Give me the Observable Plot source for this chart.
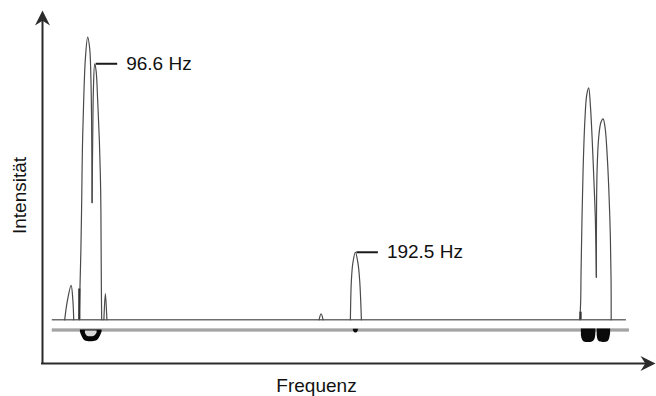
<!DOCTYPE html>
<html><head><meta charset="utf-8">
<script src="https://cdn.jsdelivr.net/npm/d3@7"></script>
<script src="https://cdn.jsdelivr.net/npm/@observablehq/plot@0.6"></script>
<style>html,body{margin:0;padding:0;background:#fff}svg{display:block}</style>
</head><body><div id="chart"></div>
<script>
// axis extents (frequency in Hz, intensity in arbitrary units)
const freqDomain = [77.4, 302.9];
const intensityDomain = [-15.46, 109.45];

// spectrum trace, as segments
const traceSegment = [
  "s1","s1","s1","s1","s1",
  "d1a","d1a","d1a","d1a","d1a","d1a","d1a","d1a","d1a","d1a","d1a","d1a",
  "d1b","d1b","d1b","d1b","d1b","d1b","d1b","d1b","d1b","d1b","d1b",
  "s2","s2","s2",
  "s3","s3","s3",
  "p2","p2","p2","p2","p2","p2","p2",
  "d3a","d3a","d3a","d3a","d3a","d3a","d3a","d3a","d3a","d3a","d3a","d3a",
  "d3b","d3b","d3b","d3b","d3b","d3b","d3b","d3b","d3b","d3b","d3b"
];
const traceHz = [
  85.56, 86.56, 87.92, 88.58, 88.88,
  90.90, 91.16, 91.52, 91.82, 92.07, 92.55, 93.18, 94.02, 94.76, 95.20, 95.46, 95.64,
  95.64, 95.86, 96.12, 96.60, 97.11, 97.70, 98.32, 98.80, 98.95, 99.06, 99.17,
  99.98, 100.53, 101.09,
  179.15, 179.88, 180.62,
  190.66, 191.03, 191.58, 192.50, 193.42, 194.08, 194.71,
  275.08, 275.38, 275.52, 276.26, 276.92, 277.58, 278.32, 278.95, 279.57, 280.23, 280.78, 281.15,
  281.15, 281.41, 282.07, 282.81, 283.62, 284.39, 285.09, 285.75, 286.30, 286.56, 286.60
];
const traceIntensity = [
  0, 6.8, 12.2, 6.8, 0,
  0, 10.4, 24.5, 42.2, 59.9, 77.6, 92.5, 100, 96.0, 85.6, 70.5, 41.5,
  41.5, 63.4, 81.1, 90.6, 88.2, 77.6, 63.4, 45.7, 28.1, 10.4, 0,
  0, 9.3, 0,
  0, 2.1, 0,
  0, 13.9, 20.2, 23.9, 20.2, 13.9, 0,
  0, 6.8, 17.4, 52.8, 70.5, 79.4, 82.1, 75.8, 64.6, 49.6, 35.5, 15.1,
  15.1, 52.8, 65.2, 69.8, 71.1, 67.7, 58.8, 45.6, 29.2, 13.9, 0
];

// short thick strokes at peak feet
const footHz = [90.94, 275.33];
const footTop = [10.9, 2.7];

// baseline lines
const baselineHz = [81.0, 292.2];
const baseline2Hz = [81.0, 293.3];
const baseline2Level = -3.61;

// dark residue under the lower baseline
const bowlHz = [91.34, 92.07, 93.18, 97.22, 98.33, 99.32];
const bowlBottom = [-4.32, -6.09, -7.5, -7.5, -6.44, -4.32];
const bowlInnerHz = [93.18, 93.91, 96.49, 97.48];
const bowlInnerBottom = [-4.8, -5.8, -5.8, -4.8];

const blobId = ["a","a","a","a","a","a","b","b","b","b","b","b","c","c","c","c"];
const blobHz = [275.63, 276.00, 276.74, 279.68, 280.60, 280.97,
                281.45, 281.89, 282.63, 285.20, 285.94, 286.38,
                191.76, 192.30, 193.10, 193.60];
const blobTop = [-3.26,-3.26,-3.26,-3.26,-3.26,-3.26,-3.26,-3.26,-3.26,-3.26,-3.26,-3.26,-3.3,-3.3,-3.3,-3.3];
const blobBottom = [-5.55, -6.97, -7.86, -7.86, -6.97, -4.84,
                    -5.55, -7.32, -7.86, -7.86, -6.97, -4.84,
                    -3.9, -4.6, -4.6, -3.9];

// peak labels
const labelHz = [96.6, 192.5];
const labelIntensity = [90.6, 23.9];
const labelText = ["96.6 Hz", "192.5 Hz"];

const xTitle = "Frequenz";
const yTitle = "Intensität";

// ---- build tables ----
const trace = traceHz.map((x, i) => ({x, y: traceIntensity[i], z: traceSegment[i]}));
const feet = footHz.map((x, i) => ({x, y1: 0, y2: footTop[i]}));
const bowl = bowlHz.map((x, i) => ({x, y1: baseline2Level, y2: bowlBottom[i]}));
const bowlInner = bowlInnerHz.map((x, i) => ({x, y1: -4.0, y2: bowlInnerBottom[i]}));
const blobs = blobHz.map((x, i) => ({x, y1: blobTop[i], y2: blobBottom[i], z: blobId[i]}));
const labels = labelHz.map((x, i) => ({x, y: labelIntensity[i], text: labelText[i]}));
const tips = [
  {x: freqDomain[0], y: intensityDomain[1], r: 0},
  {x: freqDomain[1], y: intensityDomain[0], r: 90}
];

const stealth = {
  draw(ctx, size) {
    const r = Math.sqrt(size / Math.PI);
    const L = 2 * r, W = 2 * r;
    ctx.moveTo(0, 0);
    ctx.lineTo(W / 2, L);
    ctx.lineTo(0, L * 0.68);
    ctx.lineTo(-W / 2, L);
    ctx.closePath();
  }
};

const ink = "#2b2b2b";

const chart = Plot.plot({
  width: 656,
  height: 396,
  marginLeft: 42,
  marginRight: 1,
  marginTop: 10,
  marginBottom: 33,
  x: {domain: freqDomain, axis: null},
  y: {domain: intensityDomain, axis: null},
  style: {fontFamily: "'Liberation Sans', Arial, sans-serif", background: "white", overflow: "visible"},
  marks: [
    // baselines
    Plot.ruleY([baseline2Level], {x1: baseline2Hz[0], x2: baseline2Hz[1], stroke: "#8a8a8a", strokeWidth: 3}),
    Plot.ruleY([baseline2Level], {x1: baseline2Hz[0], x2: baseline2Hz[1], stroke: "#bdbdbd", strokeWidth: 1}),
    Plot.ruleY([0], {x1: baselineHz[0], x2: baselineHz[1], stroke: "#6e6e6e", strokeWidth: 1.4}),
    // residue
    Plot.areaY(bowl, {x: "x", y1: "y1", y2: "y2", fill: "#050505", curve: "catmull-rom"}),
    Plot.areaY(bowlInner, {x: "x", y1: "y1", y2: "y2", fill: "#d8d8d8", curve: "catmull-rom"}),
    Plot.areaY(blobs, {x: "x", y1: "y1", y2: "y2", z: "z", fill: "#0a0a0a", curve: "catmull-rom"}),
    // spectrum
    Plot.line(trace, {x: "x", y: "y", z: "z", stroke: "#4a4a4a", strokeWidth: 1.2, curve: "catmull-rom"}),
    Plot.ruleX(feet, {x: "x", y1: "y1", y2: "y2", stroke: "#333", strokeWidth: 2.2}),
    // labels
    Plot.ruleY(labels, {y: "y", x1: d => d.x + 0.55, x2: d => d.x + 8.46, stroke: "#1a1a1a", strokeWidth: 2}),
    Plot.text(labels, {x: "x", y: "y", text: "text", dx: 31.5, textAnchor: "start", fontSize: 19, fill: "#111"}),
    // axes
    Plot.ruleX([freqDomain[0]], {y1: intensityDomain[0], y2: intensityDomain[1] - 3, stroke: ink, strokeWidth: 2, strokeLinecap: "square"}),
    Plot.ruleY([intensityDomain[0]], {x1: freqDomain[0], x2: freqDomain[1] - 2.5, stroke: ink, strokeWidth: 2, strokeLinecap: "square"}),
    Plot.dot(tips, {x: "x", y: "y", rotate: "r", symbol: stealth, r: 7.5, fill: ink, stroke: "none"}),
    // titles
    Plot.text([xTitle], {frameAnchor: "bottom", textAnchor: "middle", lineAnchor: "middle", dx: -32.5, dy: 22, fontSize: 19, fill: "#111"}),
    Plot.text([yTitle], {frameAnchor: "left", textAnchor: "middle", lineAnchor: "middle", rotate: -90, dx: -23, dy: 8.5, fontSize: 19, fill: "#111"})
  ]
});
document.getElementById("chart").appendChild(chart);
</script>
</body></html>
